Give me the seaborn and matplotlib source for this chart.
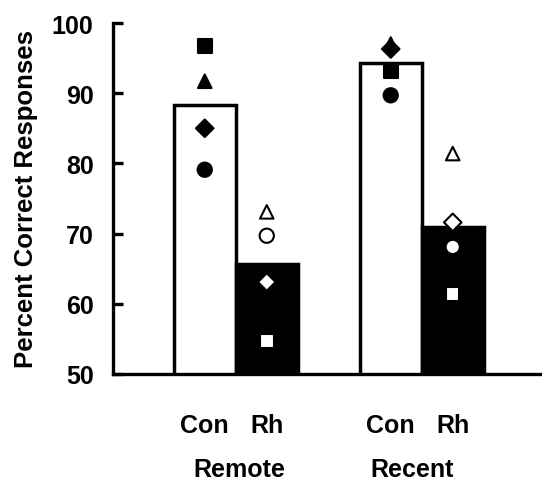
import numpy as np
import pandas as pd
import matplotlib
matplotlib.use("Agg")
import matplotlib.pyplot as plt
import seaborn as sns

# ---- data ----
groups = ["Remote", "Remote", "Recent", "Recent"]
conds = ["Con", "Rh", "Con", "Rh"]
bar_means = [88.3, 65.6, 94.3, 70.9]
square_vals = [96.7, 54.7, 93.1, 61.4]
triangle_vals = [91.7, 73.1, 97.0, 81.4]
diamond_vals = [85.0, 63.1, 96.3, 71.6]
circle_vals = [79.1, 69.7, 89.7, 68.1]
yticks = [50, 60, 70, 80, 90, 100]
group_names = ["Remote", "Recent"]

sns.set_style("white")
plt.rcParams["font.family"] = ["Liberation Sans", "DejaVu Sans"]
plt.rcParams["font.weight"] = "bold"
for key in ["text.color", "axes.labelcolor", "xtick.color", "ytick.color"]:
    plt.rcParams[key] = "black"

# positions computed from group / condition index
gidx = [group_names.index(g) for g in groups]
cidx = [0 if c == "Con" else 1 for c in conds]
pos = [g * 3 + c for g, c in zip(gidx, cidx)]

bars = pd.DataFrame({"pos": pos, "value": bar_means, "cond": conds})
pts = []
for name, vals in [("square", square_vals), ("triangle", triangle_vals),
                   ("diamond", diamond_vals), ("circle", circle_vals)]:
    for p, c, v in zip(pos, conds, vals):
        pts.append({"pos": p, "value": v, "cond": c, "subject": name})
pts = pd.DataFrame(pts)

fig = plt.figure(figsize=(5.42, 4.81), dpi=100)
ax = fig.add_axes([113 / 542, 106 / 481, 429 / 542, 351 / 481])

sns.barplot(data=bars, x="pos", y="value", hue="cond",
            palette={"Con": "white", "Rh": "black"}, dodge=False,
            native_scale=True, width=1.0, edgecolor="black", linewidth=2.5,
            errorbar=None, legend=False, ax=ax, zorder=2)

markers = {"square": "s", "triangle": "^", "diamond": "D", "circle": "o"}
sizes = {"square": 95, "triangle": 95, "diamond": 80, "circle": 105}
for subj, m in markers.items():
    sub = pts[pts["subject"] == subj]
    sns.scatterplot(data=sub, x="pos", y="value", hue="cond",
                    palette={"Con": "black", "Rh": "white"}, marker=m,
                    s=sizes[subj], edgecolor="black", linewidth=1.5,
                    legend=False, ax=ax, zorder=5)

ax.set_ylim(50, 100)
ax.set_xlim(-1.48, 5.44)
ax.set_yticks(yticks)
ax.set_yticklabels([str(t) for t in yticks], fontsize=18, fontweight="bold")
ax.set_xticks(pos)
ax.set_xticklabels(conds, fontsize=18, fontweight="bold")
ax.tick_params(axis="y", direction="in", length=7, width=2.4, pad=14, left=True,
               colors="black")
ax.tick_params(axis="x", length=0, pad=28, colors="black")
ax.set_xlabel("")
ax.set_ylabel("Percent Correct Responses", fontsize=18.5, fontweight="bold",
              labelpad=10, color="black")

for s in ["top", "right"]:
    ax.spines[s].set_visible(False)
for s in ["left", "bottom"]:
    ax.spines[s].set_linewidth(2.4)
    ax.spines[s].set_color("black")

label_shift = [0.06, -0.16]  # layout tweak for group captions
for gi, gname in enumerate(group_names):
    gpos = [p for p, g in zip(pos, gidx) if g == gi]
    ax.text(np.mean(gpos) + label_shift[gi], -0.27, gname,
            transform=ax.get_xaxis_transform(), color="black",
            ha="center", va="center", fontsize=18, fontweight="bold")

ax.grid(False)
fig.savefig("out.png", dpi=100, facecolor="white")
